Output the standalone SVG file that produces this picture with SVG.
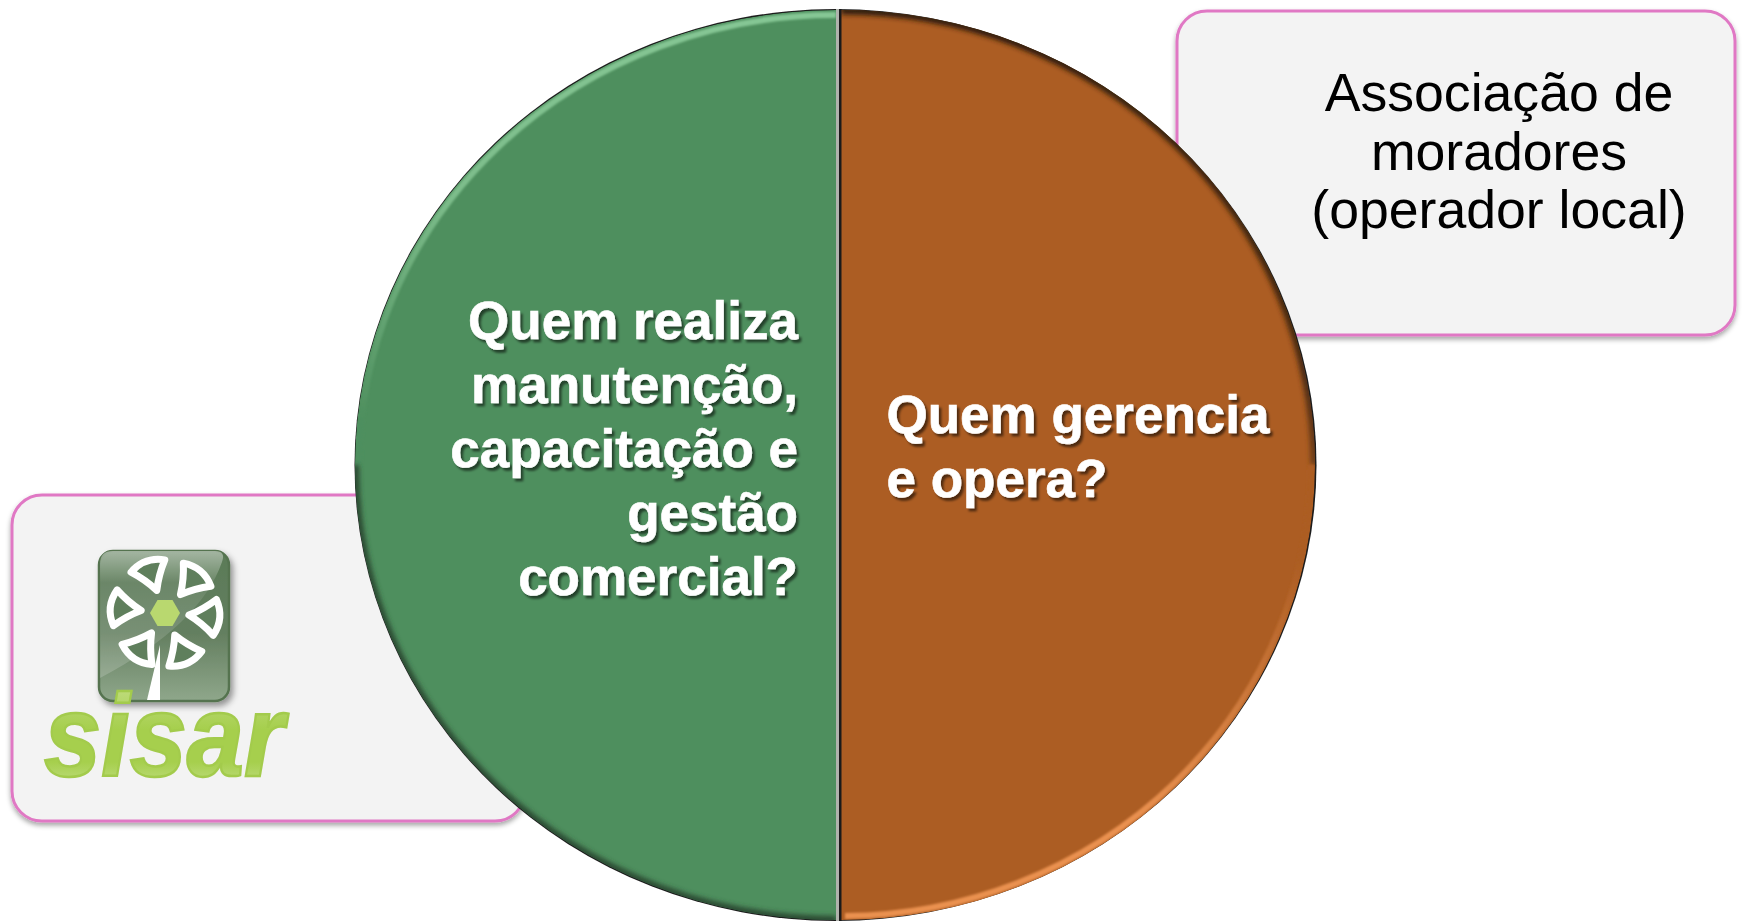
<svg xmlns="http://www.w3.org/2000/svg" width="1749" height="922" viewBox="0 0 1749 922">
<style>
.box{fill:#f3f3f3;stroke:#e078c4;stroke-width:3;filter:url(#boxShadow)}
.q{font-family:"Liberation Sans",Arial,sans-serif;font-weight:700;font-size:53px;fill:#fff;stroke:#fff;stroke-width:.6;filter:url(#textShadow)}
.a{font-family:"Liberation Sans",Arial,sans-serif;font-size:53.6px;fill:#000;text-anchor:middle;filter:url(#soften)}
.petal{fill:#5f7f5c;stroke:#fff;stroke-width:7;stroke-linejoin:round}
.end{text-anchor:end}
</style>
<defs>
<filter id="boxShadow" x="-5%" y="-5%" width="110%" height="112%"><feDropShadow dx="0" dy="3" stdDeviation="2.5" flood-color="#000" flood-opacity=".35"/></filter>
<filter id="textShadow" x="-5%" y="-10%" width="110%" height="125%"><feDropShadow dx="2.5" dy="3" stdDeviation="1.2" flood-color="#000" flood-opacity=".55"/><feGaussianBlur stdDeviation=".45"/></filter>
<filter id="soften" x="-2%" y="-5%" width="104%" height="110%"><feGaussianBlur stdDeviation=".35"/></filter>
<filter id="soft" x="-10%" y="-10%" width="120%" height="120%"><feGaussianBlur stdDeviation="2.5"/></filter>
<filter id="soft1" x="-10%" y="-10%" width="120%" height="120%"><feGaussianBlur stdDeviation="1.2"/></filter>
<filter id="logoShadow" x="-10%" y="-10%" width="125%" height="125%"><feDropShadow dx="3" dy="4" stdDeviation="3" flood-color="#000" flood-opacity=".4"/></filter>
<linearGradient id="logoBg" x1="0" y1="0" x2="0" y2="1"><stop offset="0" stop-color="#5a7a57"/><stop offset=".55" stop-color="#647f60"/><stop offset="1" stop-color="#8fa78b"/></linearGradient>
<linearGradient id="logoGloss" x1="0" y1="0" x2="0" y2="1"><stop offset="0" stop-color="#fff" stop-opacity=".45"/><stop offset=".25" stop-color="#fff" stop-opacity=".08"/><stop offset="1" stop-color="#fff" stop-opacity=".18"/></linearGradient>
<linearGradient id="sisarFill" x1="0" y1="0" x2="0" y2="1"><stop offset="0" stop-color="#c8e08f"/><stop offset=".45" stop-color="#a6cf4d"/><stop offset=".7" stop-color="#a6cf4d"/><stop offset="1" stop-color="#cfe6a0"/></linearGradient>
<linearGradient id="greenLight" gradientUnits="userSpaceOnUse" x1="0" y1="9" x2="0" y2="420"><stop offset="0" stop-color="#86c795"/><stop offset=".45" stop-color="#7dbd8b"/><stop offset="1" stop-color="#4e8f5e"/></linearGradient>
<linearGradient id="greenDark" gradientUnits="userSpaceOnUse" x1="0" y1="465" x2="0" y2="921"><stop offset="0" stop-color="#2a4a32"/><stop offset="1" stop-color="#2a4a32"/></linearGradient>
<linearGradient id="brownDark" gradientUnits="userSpaceOnUse" x1="0" y1="9" x2="0" y2="620"><stop offset="0" stop-color="#2f1d0d"/><stop offset=".6" stop-color="#4a2b12"/><stop offset="1" stop-color="#ac5d23"/></linearGradient>
<linearGradient id="brownLight" gradientUnits="userSpaceOnUse" x1="0" y1="560" x2="0" y2="820"><stop offset="0" stop-color="#ac5d23"/><stop offset="1" stop-color="#ea9150"/></linearGradient>
<clipPath id="leftClip"><path d="M836 10A481 455 0 0 0 836 920Z"/></clipPath>
<clipPath id="rightClip"><path d="M841 10A474 455 0 0 1 841 920Z"/></clipPath>
<clipPath id="logoClip"><rect x="99" y="550" width="130" height="149" rx="14"/></clipPath>
</defs>

<g id="node-associacao">
<rect class="box" x="1177" y="11" width="558" height="324" rx="30"/>
<text class="a" x="1499" y="111">Associação de</text>
<text class="a" x="1499" y="170">moradores</text>
<text class="a" x="1499" y="228">(operador local)</text>
</g>

<g id="node-sisar">
<rect class="box" x="12" y="495" width="513" height="326" rx="30"/>
<g id="sisar-logo">
<rect x="99" y="551" width="130" height="150" rx="14" fill="url(#logoBg)" stroke="#54734f" stroke-width="2.5" filter="url(#logoShadow)"/>
<path d="M100 678V564Q100 551 113 551H215Q226 551 222 562Q200 625 100 678Z" fill="url(#logoGloss)" clip-path="url(#logoClip)"/>
<polygon points="160,645 147,700 160,700" fill="#fff"/>
<g transform="translate(165 613)">
<path class="petal" d="M24 0Q38-7 50-18Q60 0 50 18Q38 7 24 0Z" transform="rotate(5)"/>
<path class="petal" d="M24 0Q38-7 50-18Q60 0 50 18Q38 7 24 0Z" transform="rotate(66)"/>
<path class="petal" d="M24 0Q38-7 50-18Q60 0 50 18Q38 7 24 0Z" transform="rotate(124)"/>
<path class="petal" d="M24 0Q38-7 50-18Q60 0 50 18Q38 7 24 0Z" transform="rotate(186)"/>
<path class="petal" d="M24 0Q38-7 50-18Q60 0 50 18Q38 7 24 0Z" transform="rotate(250)"/>
<path class="petal" d="M24 0Q38-7 50-18Q60 0 50 18Q38 7 24 0Z" transform="rotate(310)"/>
<polygon points="15,0 7.5,-13 -7.5,-13 -15,0 -7.5,13 7.5,13" fill="#b9d86f"/>
</g>
<text x="44" y="776" font-family="'Liberation Sans',Arial,sans-serif" font-weight="700" font-style="italic" font-size="116" textLength="240" lengthAdjust="spacingAndGlyphs" fill="url(#sisarFill)" stroke="#a3cb4c" stroke-width="2.5">sisar</text>
</g>
</g>

<g id="node-circle">
<ellipse cx="835.500" cy="465" rx="481" ry="456" fill="#1d1d1d" filter="url(#soften)"/>
<g id="segment-left" clip-path="url(#leftClip)">
<path d="M836 10A481 455 0 0 0 836 920Z" fill="#4e8f5e"/>
<path d="M836 15A476 450 0 0 0 359 465" fill="none" stroke="url(#greenLight)" stroke-width="6" filter="url(#soft1)"/>
<path d="M355 465A481 455 0 0 0 836 920" fill="none" stroke="url(#greenDark)" stroke-width="8" filter="url(#soft)"/>
<path d="M835 10V920" fill="none" stroke="#2f5a3a" stroke-width="3" filter="url(#soft1)"/>
</g>
<g id="segment-right" clip-path="url(#rightClip)">
<path d="M841 10A474 455 0 0 1 841 920Z" fill="#ac5d23"/>
<path d="M841 10A474 455 0 0 1 1315 465" fill="none" stroke="url(#brownDark)" stroke-width="9" filter="url(#soft)"/>
<path d="M842 10V920" fill="none" stroke="#2a1606" stroke-width="7" filter="url(#soft)"/>
<path d="M1311 465A470 451 0 0 1 845 916" fill="none" stroke="url(#brownLight)" stroke-width="6" filter="url(#soft1)"/>
</g>
<rect x="836" y="9" width="3" height="912" fill="#b0b3ad"/>
<rect x="839" y="9" width="2.500" height="912" fill="#1a1a1a"/>
<g id="label-left">
<text class="q end" x="798" y="339">Quem realiza</text>
<text class="q end" x="798" y="403">manutenção,</text>
<text class="q end" x="798" y="467">capacitação e</text>
<text class="q end" x="798" y="531">gestão</text>
<text class="q end" x="798" y="595">comercial?</text>
</g>
<g id="label-right">
<text class="q" x="886.500" y="433">Quem gerencia</text>
<text class="q" x="886.500" y="497">e opera?</text>
</g>
</g>
<g id="connectors"/>
</svg>
